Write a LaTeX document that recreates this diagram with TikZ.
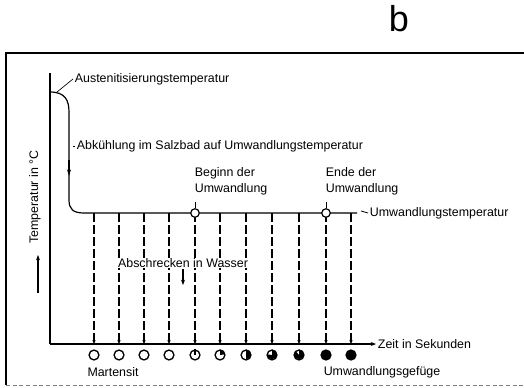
\documentclass[tikz,border=0pt]{standalone}
\usepackage{fontspec}
\setmainfont{Liberation Sans}
\usetikzlibrary{arrows.meta}

\begin{document}
\begin{tikzpicture}[x=0.75pt,y=-0.75pt,
        font=\fontsize{9.3}{12}\selectfont, line width=0.9pt,
        txt/.style={inner sep=1pt},
        gef/.style={circle, draw, line width=1pt, minimum size=7.4pt, inner sep=0pt},
        punkt/.style={circle, draw, fill=white, line width=0.9pt, minimum size=6.4pt, inner sep=0pt},
        strich/.style={dash pattern=on 6.5pt off 2.5pt, -{Stealth[length=3pt,width=2.5pt]}}]
        \useasboundingbox (0,0) rectangle (524,387);

        % Rahmen
        \draw[line width=1.1pt] (524,53) -- (6,53) -- (6,385);
        \draw[gray, densely dashed, line width=0.6pt] (6,385) -- (524,385);
        \node[font=\fontsize{27}{30}\selectfont, inner sep=0pt] (b) at (399,19) {b};

        % Achsen
        \coordinate (O) at (50,344);
        \coordinate (oben) at (50,73);
        \node[txt, anchor=west] (zeit) at (376,344) {Zeit in Sekunden};
        \draw (oben) -- (O);
        \draw[-{Stealth[length=4pt,width=3pt]}] (O) -- (zeit.west);
        \node[txt, rotate=90] (temp) at (35,197) {Temperatur in °C};
        \coordinate (pu) at (38,293);
        \coordinate (po) at (38,255);
        \draw[-{Stealth[length=4pt,width=3pt]}] (pu) -- (po);

        % Temperaturverlauf
        \coordinate (start) at (50,92);
        \coordinate (ende) at (357,213);
        \draw (start) .. controls (65,92) and (69,100) .. (69,112) -- (69,200)
              .. controls (69,209) and (73,213) .. (84,213) -- (ende);
        \draw[-{Stealth[length=5pt,width=3pt]}] (69,160) -- (69,176);

        % Beschriftung
        \node[txt, anchor=west] (aust) at (73,79) {Austenitisierungstemperatur};
        \draw[line width=0.5pt] (57,92) -- (aust.west);
        \node[txt, anchor=west] (abk) at (75,146) {Abkühlung im Salzbad auf Umwandlungstemperatur};
        \draw[line width=0.6pt] (abk.west) -- ++(-2,0);
        \node[txt, anchor=west] (uwt) at (368,213) {Umwandlungstemperatur};
        \draw[line width=0.6pt] (361,211) -- (uwt.west);

        % Abschrecken
        \foreach \x [count=\i] in {94,119,144,169,195,220,246,272,299,326,351} {
            \coordinate (t\i) at (\x,213);
            \node[gef] (g\i) at (\x,355) {};
            \draw[strich] (t\i) -- (t\i |- O);
        }
        \node[txt, fill=white, inner sep=0.5pt] (wasser) at (183,263) {Abschrecken in Wasser};
        \coordinate (wpfeil) at (183,285);
        \draw[-{Stealth[length=4pt,width=3pt]}] (wasser.south -| wpfeil) -- (wpfeil);

        % Umwandlungsgefuege
        \draw[line width=0.8pt] (g5.center) -- (g5.north);
        \fill (g6.center) -- (g6.north) arc[start angle=90, end angle=0, radius=3.7pt] -- cycle;
        \fill (g7.center) -- (g7.north) arc[start angle=90, end angle=-90, radius=3.7pt] -- cycle;
        \fill (g8.center) -- (g8.north) arc[start angle=90, end angle=-180, radius=3.7pt] -- cycle;
        \fill (g9.center) -- (g9.north) arc[start angle=90, end angle=-225, radius=3.7pt] -- cycle;
        \fill (g10) circle (3.7pt);
        \fill (g11) circle (3.7pt);

        \node[punkt] (beginn) at (t5) {};
        \node[punkt] (ende2) at (t10) {};
        \node[txt, anchor=south west, align=left] (btxt) at (193,197) {Beginn der\\Umwandlung};
        \node[txt, anchor=south west, align=left] (etxt) at (324,197) {Ende der\\Umwandlung};
        \draw[line width=0.6pt] (beginn.north) -- ++(0,-6);
        \draw[line width=0.6pt] (ende2.north) -- ++(0,-6);

        \node[txt] (mart) at (113,372) {Martensit};
        \node[txt] (gefuege) at (382,372) {Umwandlungsgefüge};
\end{tikzpicture}
\end{document}
